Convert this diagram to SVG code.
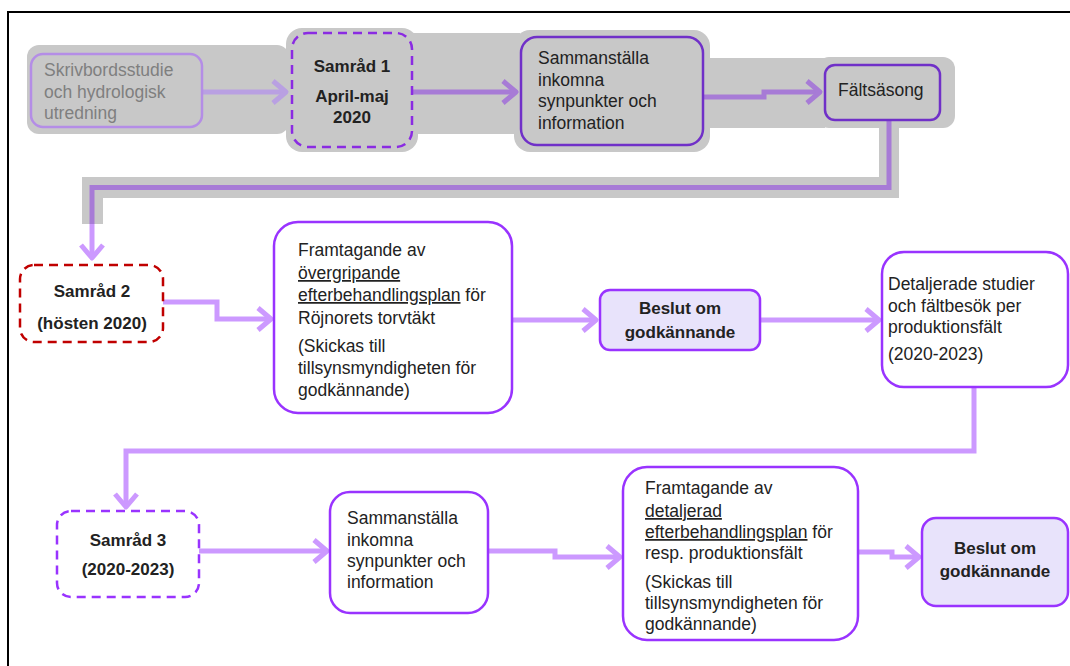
<svg xmlns="http://www.w3.org/2000/svg" width="1070" height="666" viewBox="0 0 1070 666">
<defs>
<style>
text{font-family:"Liberation Sans",Arial,sans-serif;font-size:17.5px;fill:#222}
.b{font-weight:bold;font-size:17px}
.c{text-anchor:middle}
.u{text-decoration:underline}
.gray{fill:#c8c8c8}
.box{fill:#fff;stroke:#9933ff;stroke-width:2.5}
.topbox{fill:#c8c8c8;stroke:#7030c8;stroke-width:2.5}
.beslut{fill:#e8e3fb;stroke:#9933ff;stroke-width:2.5}
.lav{fill:none;stroke:#cc99ff;stroke-width:5}
.pur{fill:none;stroke:#a77bd6;stroke-width:5}
.lpur{fill:none;stroke:#b9a0e2;stroke-width:5}
</style>
<marker id="mLav" markerUnits="userSpaceOnUse" viewBox="0 0 20 26" refX="16" refY="13" markerWidth="20" markerHeight="26" orient="auto" overflow="visible">
<path d="M3,2 L16,13 L3,24" fill="none" stroke="#cc99ff" stroke-width="5" stroke-linejoin="round"/>
</marker>
<marker id="mPur" markerUnits="userSpaceOnUse" viewBox="0 0 20 26" refX="16" refY="13" markerWidth="20" markerHeight="26" orient="auto" overflow="visible">
<path d="M3,2 L16,13 L3,24" fill="none" stroke="#a77bd6" stroke-width="5" stroke-linejoin="round"/>
</marker>
<marker id="mLpur" markerUnits="userSpaceOnUse" viewBox="0 0 20 26" refX="16" refY="13" markerWidth="20" markerHeight="26" orient="auto" overflow="visible">
<path d="M3,2 L16,13 L3,24" fill="none" stroke="#b9a0e2" stroke-width="5" stroke-linejoin="round"/>
</marker>
</defs>
<rect width="1070" height="666" fill="#fff"/>
<rect x="8" y="12" width="1100" height="700" fill="none" stroke="#000" stroke-width="2"/>

<g id="highlight">
<rect class="gray" x="27" y="45" width="262" height="89" rx="12"/>
<rect class="gray" x="286" y="28" width="132" height="124" rx="16"/>
<rect class="gray" x="412" y="33" width="108" height="101"/>
<rect class="gray" x="514" y="30" width="196" height="122" rx="16"/>
<rect class="gray" x="705" y="58" width="120" height="70"/>
<rect class="gray" x="817" y="57" width="138" height="71" rx="12"/>
<rect class="gray" x="879" y="120" width="20" height="78"/>
<rect class="gray" x="82" y="177" width="817" height="21"/>
<rect class="gray" x="82" y="177" width="21" height="47"/>
</g>

<g id="connectors">
<path class="lpur" d="M202,92 H286" marker-end="url(#mLpur)"/>
<path class="pur" d="M412,92 H516" marker-end="url(#mPur)"/>
<path class="pur" d="M703,97 H764 V92 H820" marker-end="url(#mPur)"/>
<path class="pur" d="M889,120 V187.5 H92 V224"/>
<path class="lav" d="M92,224 V258" marker-end="url(#mLav)"/>
<path class="lav" d="M163,302 H217 V319 H271" marker-end="url(#mLav)"/>
<path class="lav" d="M512,320 H596" marker-end="url(#mLav)"/>
<path class="lav" d="M760,320 H879" marker-end="url(#mLav)"/>
<path class="lav" d="M974,387 V451 H126 V507" marker-end="url(#mLav)"/>
<path class="lav" d="M199,551 H327" marker-end="url(#mLav)"/>
<path class="lav" d="M488,551 H555 V557 H620" marker-end="url(#mLav)"/>
<path class="lav" d="M858,552 H892 V557 H919" marker-end="url(#mLav)"/>
</g>

<g id="n-skrivbord">
<rect x="31" y="54" width="171" height="73" rx="12" fill="#c8c8c8" stroke="#b48de6" stroke-width="2.5"/>
<text x="44" y="76" style="fill:#7f7f7f">Skrivbordsstudie</text>
<text x="44" y="98" style="fill:#7f7f7f">och hydrologisk</text>
<text x="44" y="119" style="fill:#7f7f7f">utredning</text>
</g>

<g id="n-samrad1">
<rect x="292" y="33" width="120" height="114" rx="16" fill="#c8c8c8" stroke="#8a2be2" stroke-width="2.5" stroke-dasharray="9,6"/>
<text class="b c" x="352" y="72">Samråd 1</text>
<text class="b c" x="352" y="102">April-maj</text>
<text class="b c" x="352" y="123">2020</text>
</g>

<g id="n-sammanstalla1">
<rect class="topbox" x="521" y="37" width="182" height="108" rx="16"/>
<text x="538" y="64">Sammanställa</text>
<text x="538" y="86">inkomna</text>
<text x="538" y="107">synpunkter och</text>
<text x="538" y="129">information</text>
</g>

<g id="n-faltsasong">
<rect class="topbox" x="825" y="65" width="115" height="55" rx="10"/>
<text x="838" y="96">Fältsäsong</text>
</g>

<g id="n-samrad2">
<rect x="20" y="265" width="143" height="77" rx="14" fill="#fff" stroke="#c00000" stroke-width="2.5" stroke-dasharray="9,6"/>
<text class="b c" x="92" y="297">Samråd 2</text>
<text class="b c" x="92" y="329">(hösten 2020)</text>
</g>

<g id="n-framtagande1">
<rect class="box" x="274" y="222" width="238" height="191" rx="24"/>
<text x="298" y="256">Framtagande av</text>
<text x="298" y="279"><tspan class="u">övergripande</tspan></text>
<text x="298" y="301"><tspan class="u">efterbehandlingsplan</tspan> för</text>
<text x="298" y="324">Röjnorets torvtäkt</text>
<text x="298" y="352">(Skickas till</text>
<text x="298" y="374">tillsynsmyndigheten för</text>
<text x="298" y="396">godkännande)</text>
</g>

<g id="n-beslut1">
<rect class="beslut" x="600" y="290" width="160" height="60" rx="10"/>
<text class="b c" x="680" y="314">Beslut om</text>
<text class="b c" x="680" y="338">godkännande</text>
</g>

<g id="n-detaljerade">
<rect class="box" x="882" y="252" width="186" height="135" rx="22"/>
<text x="888" y="290">Detaljerade studier</text>
<text x="888" y="312">och fältbesök per</text>
<text x="888" y="333">produktionsfält</text>
<text x="888" y="360">(2020-2023)</text>
</g>

<g id="n-samrad3">
<rect x="57" y="511" width="142" height="86" rx="14" fill="#fff" stroke="#9933ff" stroke-width="2.5" stroke-dasharray="9,6"/>
<text class="b c" x="128" y="546">Samråd 3</text>
<text class="b c" x="128" y="575">(2020-2023)</text>
</g>

<g id="n-sammanstalla2">
<rect class="box" x="330" y="492" width="158" height="121" rx="20"/>
<text x="347" y="524">Sammanställa</text>
<text x="347" y="546">inkomna</text>
<text x="347" y="567">synpunkter och</text>
<text x="347" y="588">information</text>
</g>

<g id="n-framtagande2">
<rect class="box" x="623" y="467" width="235" height="173" rx="24"/>
<text x="645" y="494">Framtagande av</text>
<text x="645" y="517"><tspan class="u">detaljerad</tspan></text>
<text x="645" y="538"><tspan class="u">efterbehandlingsplan</tspan> för</text>
<text x="645" y="559">resp. produktionsfält</text>
<text x="645" y="588">(Skickas till</text>
<text x="645" y="609">tillsynsmyndigheten för</text>
<text x="645" y="630">godkännande)</text>
</g>

<g id="n-beslut2">
<rect class="beslut" x="922" y="518" width="146" height="88" rx="14"/>
<text class="b c" x="995" y="554">Beslut om</text>
<text class="b c" x="995" y="577">godkännande</text>
</g>
</svg>
